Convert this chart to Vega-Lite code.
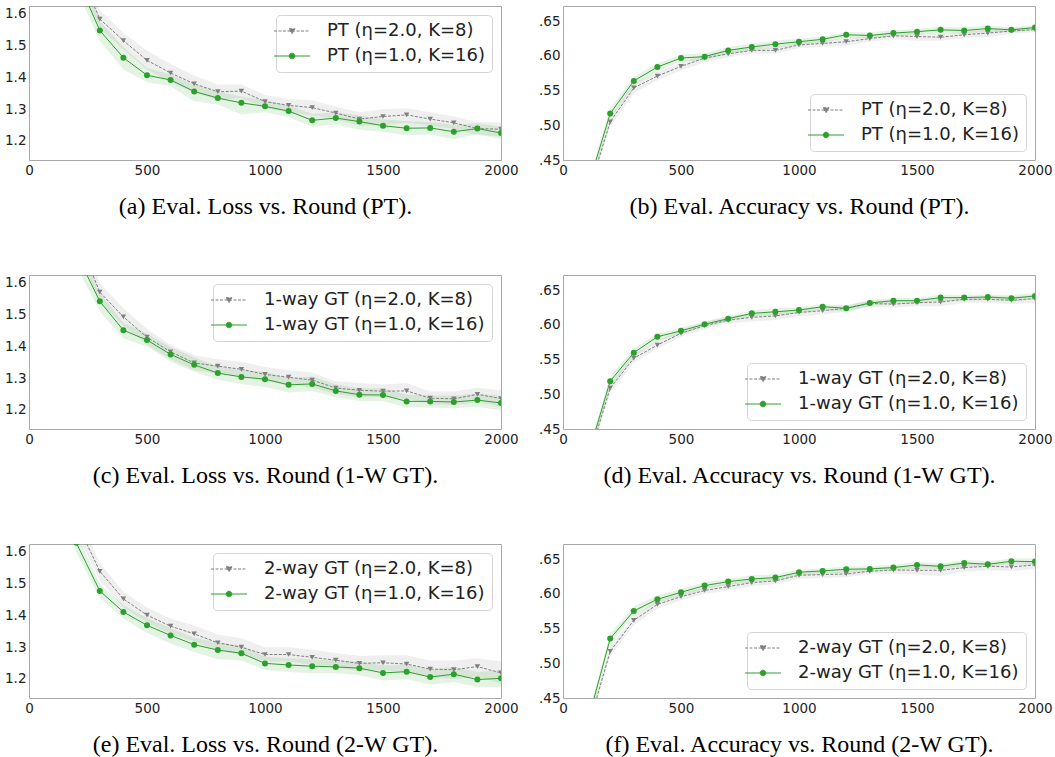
{
"$schema":"https://vega.github.io/schema/vega-lite/v6.json",
"padding":{"left":4,"top":5,"right":0,"bottom":0},
"background":"white",
"datasets":{
"a":[
{"s":"PT (η=2.0, K=8)","o":0,"r":100,"v":2.1,"lo":2.05,"hi":2.15},
{"s":"PT (η=2.0, K=8)","o":0,"r":200,"v":1.756,"lo":1.72,"hi":1.79},
{"s":"PT (η=2.0, K=8)","o":0,"r":300,"v":1.584,"lo":1.555,"hi":1.612},
{"s":"PT (η=2.0, K=8)","o":0,"r":400,"v":1.516,"lo":1.488,"hi":1.54},
{"s":"PT (η=2.0, K=8)","o":0,"r":500,"v":1.454,"lo":1.425,"hi":1.485},
{"s":"PT (η=2.0, K=8)","o":0,"r":600,"v":1.414,"lo":1.385,"hi":1.442},
{"s":"PT (η=2.0, K=8)","o":0,"r":700,"v":1.38,"lo":1.352,"hi":1.406},
{"s":"PT (η=2.0, K=8)","o":0,"r":800,"v":1.355,"lo":1.33,"hi":1.378},
{"s":"PT (η=2.0, K=8)","o":0,"r":900,"v":1.357,"lo":1.335,"hi":1.378},
{"s":"PT (η=2.0, K=8)","o":0,"r":1000,"v":1.324,"lo":1.303,"hi":1.345},
{"s":"PT (η=2.0, K=8)","o":0,"r":1100,"v":1.312,"lo":1.29,"hi":1.332},
{"s":"PT (η=2.0, K=8)","o":0,"r":1200,"v":1.305,"lo":1.28,"hi":1.328},
{"s":"PT (η=2.0, K=8)","o":0,"r":1300,"v":1.288,"lo":1.268,"hi":1.308},
{"s":"PT (η=2.0, K=8)","o":0,"r":1400,"v":1.269,"lo":1.248,"hi":1.29},
{"s":"PT (η=2.0, K=8)","o":0,"r":1500,"v":1.277,"lo":1.25,"hi":1.3},
{"s":"PT (η=2.0, K=8)","o":0,"r":1600,"v":1.282,"lo":1.258,"hi":1.303},
{"s":"PT (η=2.0, K=8)","o":0,"r":1700,"v":1.269,"lo":1.248,"hi":1.29},
{"s":"PT (η=2.0, K=8)","o":0,"r":1800,"v":1.257,"lo":1.238,"hi":1.277},
{"s":"PT (η=2.0, K=8)","o":0,"r":1900,"v":1.239,"lo":1.218,"hi":1.26},
{"s":"PT (η=2.0, K=8)","o":0,"r":2000,"v":1.237,"lo":1.215,"hi":1.258},
{"s":"PT (η=1.0, K=16)","o":1,"r":100,"v":2.05,"lo":2.0,"hi":2.1},
{"s":"PT (η=1.0, K=16)","o":1,"r":200,"v":1.717,"lo":1.68,"hi":1.75},
{"s":"PT (η=1.0, K=16)","o":1,"r":300,"v":1.548,"lo":1.515,"hi":1.578},
{"s":"PT (η=1.0, K=16)","o":1,"r":400,"v":1.462,"lo":1.425,"hi":1.495},
{"s":"PT (η=1.0, K=16)","o":1,"r":500,"v":1.407,"lo":1.385,"hi":1.43},
{"s":"PT (η=1.0, K=16)","o":1,"r":600,"v":1.392,"lo":1.372,"hi":1.41},
{"s":"PT (η=1.0, K=16)","o":1,"r":700,"v":1.356,"lo":1.325,"hi":1.378},
{"s":"PT (η=1.0, K=16)","o":1,"r":800,"v":1.335,"lo":1.315,"hi":1.355},
{"s":"PT (η=1.0, K=16)","o":1,"r":900,"v":1.32,"lo":1.283,"hi":1.34},
{"s":"PT (η=1.0, K=16)","o":1,"r":1000,"v":1.309,"lo":1.29,"hi":1.328},
{"s":"PT (η=1.0, K=16)","o":1,"r":1100,"v":1.294,"lo":1.275,"hi":1.312},
{"s":"PT (η=1.0, K=16)","o":1,"r":1200,"v":1.265,"lo":1.245,"hi":1.285},
{"s":"PT (η=1.0, K=16)","o":1,"r":1300,"v":1.272,"lo":1.252,"hi":1.29},
{"s":"PT (η=1.0, K=16)","o":1,"r":1400,"v":1.261,"lo":1.235,"hi":1.28},
{"s":"PT (η=1.0, K=16)","o":1,"r":1500,"v":1.248,"lo":1.228,"hi":1.268},
{"s":"PT (η=1.0, K=16)","o":1,"r":1600,"v":1.24,"lo":1.218,"hi":1.262},
{"s":"PT (η=1.0, K=16)","o":1,"r":1700,"v":1.241,"lo":1.22,"hi":1.26},
{"s":"PT (η=1.0, K=16)","o":1,"r":1800,"v":1.229,"lo":1.205,"hi":1.25},
{"s":"PT (η=1.0, K=16)","o":1,"r":1900,"v":1.239,"lo":1.222,"hi":1.256},
{"s":"PT (η=1.0, K=16)","o":1,"r":2000,"v":1.225,"lo":1.205,"hi":1.245}
],
"b":[
{"s":"PT (η=2.0, K=8)","o":0,"r":100,"v":0.395,"lo":0.388,"hi":0.402},
{"s":"PT (η=2.0, K=8)","o":0,"r":200,"v":0.505,"lo":0.498,"hi":0.512},
{"s":"PT (η=2.0, K=8)","o":0,"r":300,"v":0.554,"lo":0.546,"hi":0.561},
{"s":"PT (η=2.0, K=8)","o":0,"r":400,"v":0.571,"lo":0.565,"hi":0.577},
{"s":"PT (η=2.0, K=8)","o":0,"r":500,"v":0.585,"lo":0.579,"hi":0.591},
{"s":"PT (η=2.0, K=8)","o":0,"r":600,"v":0.597,"lo":0.591,"hi":0.602},
{"s":"PT (η=2.0, K=8)","o":0,"r":700,"v":0.603,"lo":0.598,"hi":0.608},
{"s":"PT (η=2.0, K=8)","o":0,"r":800,"v":0.608,"lo":0.603,"hi":0.613},
{"s":"PT (η=2.0, K=8)","o":0,"r":900,"v":0.608,"lo":0.603,"hi":0.612},
{"s":"PT (η=2.0, K=8)","o":0,"r":1000,"v":0.616,"lo":0.611,"hi":0.62},
{"s":"PT (η=2.0, K=8)","o":0,"r":1100,"v":0.618,"lo":0.613,"hi":0.622},
{"s":"PT (η=2.0, K=8)","o":0,"r":1200,"v":0.6205,"lo":0.615,"hi":0.625},
{"s":"PT (η=2.0, K=8)","o":0,"r":1300,"v":0.625,"lo":0.621,"hi":0.629},
{"s":"PT (η=2.0, K=8)","o":0,"r":1400,"v":0.629,"lo":0.624,"hi":0.633},
{"s":"PT (η=2.0, K=8)","o":0,"r":1500,"v":0.628,"lo":0.622,"hi":0.633},
{"s":"PT (η=2.0, K=8)","o":0,"r":1600,"v":0.627,"lo":0.622,"hi":0.632},
{"s":"PT (η=2.0, K=8)","o":0,"r":1700,"v":0.6305,"lo":0.626,"hi":0.635},
{"s":"PT (η=2.0, K=8)","o":0,"r":1800,"v":0.633,"lo":0.627,"hi":0.638},
{"s":"PT (η=2.0, K=8)","o":0,"r":1900,"v":0.636,"lo":0.632,"hi":0.64},
{"s":"PT (η=2.0, K=8)","o":0,"r":2000,"v":0.638,"lo":0.634,"hi":0.642},
{"s":"PT (η=1.0, K=16)","o":1,"r":100,"v":0.405,"lo":0.398,"hi":0.412},
{"s":"PT (η=1.0, K=16)","o":1,"r":200,"v":0.517,"lo":0.509,"hi":0.525},
{"s":"PT (η=1.0, K=16)","o":1,"r":300,"v":0.564,"lo":0.557,"hi":0.57},
{"s":"PT (η=1.0, K=16)","o":1,"r":400,"v":0.584,"lo":0.578,"hi":0.589},
{"s":"PT (η=1.0, K=16)","o":1,"r":500,"v":0.597,"lo":0.592,"hi":0.602},
{"s":"PT (η=1.0, K=16)","o":1,"r":600,"v":0.599,"lo":0.594,"hi":0.604},
{"s":"PT (η=1.0, K=16)","o":1,"r":700,"v":0.608,"lo":0.603,"hi":0.613},
{"s":"PT (η=1.0, K=16)","o":1,"r":800,"v":0.613,"lo":0.608,"hi":0.618},
{"s":"PT (η=1.0, K=16)","o":1,"r":900,"v":0.617,"lo":0.611,"hi":0.622},
{"s":"PT (η=1.0, K=16)","o":1,"r":1000,"v":0.6205,"lo":0.616,"hi":0.625},
{"s":"PT (η=1.0, K=16)","o":1,"r":1100,"v":0.624,"lo":0.619,"hi":0.628},
{"s":"PT (η=1.0, K=16)","o":1,"r":1200,"v":0.6305,"lo":0.626,"hi":0.634},
{"s":"PT (η=1.0, K=16)","o":1,"r":1300,"v":0.6295,"lo":0.625,"hi":0.634},
{"s":"PT (η=1.0, K=16)","o":1,"r":1400,"v":0.633,"lo":0.628,"hi":0.637},
{"s":"PT (η=1.0, K=16)","o":1,"r":1500,"v":0.635,"lo":0.631,"hi":0.639},
{"s":"PT (η=1.0, K=16)","o":1,"r":1600,"v":0.6376,"lo":0.633,"hi":0.642},
{"s":"PT (η=1.0, K=16)","o":1,"r":1700,"v":0.6367,"lo":0.632,"hi":0.641},
{"s":"PT (η=1.0, K=16)","o":1,"r":1800,"v":0.6395,"lo":0.635,"hi":0.644},
{"s":"PT (η=1.0, K=16)","o":1,"r":1900,"v":0.6376,"lo":0.634,"hi":0.641},
{"s":"PT (η=1.0, K=16)","o":1,"r":2000,"v":0.641,"lo":0.637,"hi":0.645}
],
"c":[
{"s":"1-way GT (η=2.0, K=8)","o":0,"r":100,"v":2.1,"lo":2.05,"hi":2.15},
{"s":"1-way GT (η=2.0, K=8)","o":0,"r":200,"v":1.754,"lo":1.715,"hi":1.79},
{"s":"1-way GT (η=2.0, K=8)","o":0,"r":300,"v":1.571,"lo":1.54,"hi":1.6},
{"s":"1-way GT (η=2.0, K=8)","o":0,"r":400,"v":1.493,"lo":1.465,"hi":1.52},
{"s":"1-way GT (η=2.0, K=8)","o":0,"r":500,"v":1.429,"lo":1.405,"hi":1.455},
{"s":"1-way GT (η=2.0, K=8)","o":0,"r":600,"v":1.383,"lo":1.36,"hi":1.405},
{"s":"1-way GT (η=2.0, K=8)","o":0,"r":700,"v":1.348,"lo":1.325,"hi":1.372},
{"s":"1-way GT (η=2.0, K=8)","o":0,"r":800,"v":1.338,"lo":1.315,"hi":1.36},
{"s":"1-way GT (η=2.0, K=8)","o":0,"r":900,"v":1.328,"lo":1.305,"hi":1.352},
{"s":"1-way GT (η=2.0, K=8)","o":0,"r":1000,"v":1.312,"lo":1.29,"hi":1.335},
{"s":"1-way GT (η=2.0, K=8)","o":0,"r":1100,"v":1.303,"lo":1.282,"hi":1.325},
{"s":"1-way GT (η=2.0, K=8)","o":0,"r":1200,"v":1.294,"lo":1.27,"hi":1.318},
{"s":"1-way GT (η=2.0, K=8)","o":0,"r":1300,"v":1.269,"lo":1.25,"hi":1.29},
{"s":"1-way GT (η=2.0, K=8)","o":0,"r":1400,"v":1.262,"lo":1.24,"hi":1.285},
{"s":"1-way GT (η=2.0, K=8)","o":0,"r":1500,"v":1.259,"lo":1.24,"hi":1.28},
{"s":"1-way GT (η=2.0, K=8)","o":0,"r":1600,"v":1.26,"lo":1.235,"hi":1.285},
{"s":"1-way GT (η=2.0, K=8)","o":0,"r":1700,"v":1.237,"lo":1.218,"hi":1.258},
{"s":"1-way GT (η=2.0, K=8)","o":0,"r":1800,"v":1.235,"lo":1.215,"hi":1.258},
{"s":"1-way GT (η=2.0, K=8)","o":0,"r":1900,"v":1.249,"lo":1.225,"hi":1.27},
{"s":"1-way GT (η=2.0, K=8)","o":0,"r":2000,"v":1.236,"lo":1.21,"hi":1.262},
{"s":"1-way GT (η=1.0, K=16)","o":1,"r":100,"v":2.05,"lo":2.0,"hi":2.1},
{"s":"1-way GT (η=1.0, K=16)","o":1,"r":200,"v":1.694,"lo":1.655,"hi":1.73},
{"s":"1-way GT (η=1.0, K=16)","o":1,"r":300,"v":1.542,"lo":1.51,"hi":1.57},
{"s":"1-way GT (η=1.0, K=16)","o":1,"r":400,"v":1.451,"lo":1.425,"hi":1.475},
{"s":"1-way GT (η=1.0, K=16)","o":1,"r":500,"v":1.42,"lo":1.4,"hi":1.44},
{"s":"1-way GT (η=1.0, K=16)","o":1,"r":600,"v":1.375,"lo":1.352,"hi":1.398},
{"s":"1-way GT (η=1.0, K=16)","o":1,"r":700,"v":1.342,"lo":1.32,"hi":1.365},
{"s":"1-way GT (η=1.0, K=16)","o":1,"r":800,"v":1.316,"lo":1.295,"hi":1.338},
{"s":"1-way GT (η=1.0, K=16)","o":1,"r":900,"v":1.304,"lo":1.282,"hi":1.326},
{"s":"1-way GT (η=1.0, K=16)","o":1,"r":1000,"v":1.297,"lo":1.272,"hi":1.32},
{"s":"1-way GT (η=1.0, K=16)","o":1,"r":1100,"v":1.279,"lo":1.255,"hi":1.3},
{"s":"1-way GT (η=1.0, K=16)","o":1,"r":1200,"v":1.282,"lo":1.26,"hi":1.305},
{"s":"1-way GT (η=1.0, K=16)","o":1,"r":1300,"v":1.26,"lo":1.24,"hi":1.28},
{"s":"1-way GT (η=1.0, K=16)","o":1,"r":1400,"v":1.248,"lo":1.228,"hi":1.268},
{"s":"1-way GT (η=1.0, K=16)","o":1,"r":1500,"v":1.247,"lo":1.228,"hi":1.268},
{"s":"1-way GT (η=1.0, K=16)","o":1,"r":1600,"v":1.227,"lo":1.208,"hi":1.248},
{"s":"1-way GT (η=1.0, K=16)","o":1,"r":1700,"v":1.227,"lo":1.208,"hi":1.246},
{"s":"1-way GT (η=1.0, K=16)","o":1,"r":1800,"v":1.225,"lo":1.205,"hi":1.245},
{"s":"1-way GT (η=1.0, K=16)","o":1,"r":1900,"v":1.231,"lo":1.21,"hi":1.252},
{"s":"1-way GT (η=1.0, K=16)","o":1,"r":2000,"v":1.222,"lo":1.198,"hi":1.245}
],
"d":[
{"s":"1-way GT (η=2.0, K=8)","o":0,"r":100,"v":0.398,"lo":0.39,"hi":0.405},
{"s":"1-way GT (η=2.0, K=8)","o":0,"r":200,"v":0.509,"lo":0.502,"hi":0.516},
{"s":"1-way GT (η=2.0, K=8)","o":0,"r":300,"v":0.552,"lo":0.545,"hi":0.558},
{"s":"1-way GT (η=2.0, K=8)","o":0,"r":400,"v":0.571,"lo":0.566,"hi":0.577},
{"s":"1-way GT (η=2.0, K=8)","o":0,"r":500,"v":0.588,"lo":0.583,"hi":0.593},
{"s":"1-way GT (η=2.0, K=8)","o":0,"r":600,"v":0.599,"lo":0.594,"hi":0.604},
{"s":"1-way GT (η=2.0, K=8)","o":0,"r":700,"v":0.607,"lo":0.602,"hi":0.612},
{"s":"1-way GT (η=2.0, K=8)","o":0,"r":800,"v":0.611,"lo":0.605,"hi":0.616},
{"s":"1-way GT (η=2.0, K=8)","o":0,"r":900,"v":0.613,"lo":0.607,"hi":0.618},
{"s":"1-way GT (η=2.0, K=8)","o":0,"r":1000,"v":0.618,"lo":0.612,"hi":0.623},
{"s":"1-way GT (η=2.0, K=8)","o":0,"r":1100,"v":0.6205,"lo":0.615,"hi":0.626},
{"s":"1-way GT (η=2.0, K=8)","o":0,"r":1200,"v":0.624,"lo":0.619,"hi":0.628},
{"s":"1-way GT (η=2.0, K=8)","o":0,"r":1300,"v":0.631,"lo":0.626,"hi":0.635},
{"s":"1-way GT (η=2.0, K=8)","o":0,"r":1400,"v":0.63,"lo":0.625,"hi":0.635},
{"s":"1-way GT (η=2.0, K=8)","o":0,"r":1500,"v":0.632,"lo":0.627,"hi":0.636},
{"s":"1-way GT (η=2.0, K=8)","o":0,"r":1600,"v":0.633,"lo":0.627,"hi":0.638},
{"s":"1-way GT (η=2.0, K=8)","o":0,"r":1700,"v":0.637,"lo":0.632,"hi":0.641},
{"s":"1-way GT (η=2.0, K=8)","o":0,"r":1800,"v":0.637,"lo":0.632,"hi":0.641},
{"s":"1-way GT (η=2.0, K=8)","o":0,"r":1900,"v":0.6355,"lo":0.63,"hi":0.641},
{"s":"1-way GT (η=2.0, K=8)","o":0,"r":2000,"v":0.638,"lo":0.632,"hi":0.643},
{"s":"1-way GT (η=1.0, K=16)","o":1,"r":100,"v":0.405,"lo":0.398,"hi":0.412},
{"s":"1-way GT (η=1.0, K=16)","o":1,"r":200,"v":0.519,"lo":0.511,"hi":0.526},
{"s":"1-way GT (η=1.0, K=16)","o":1,"r":300,"v":0.56,"lo":0.554,"hi":0.566},
{"s":"1-way GT (η=1.0, K=16)","o":1,"r":400,"v":0.583,"lo":0.577,"hi":0.588},
{"s":"1-way GT (η=1.0, K=16)","o":1,"r":500,"v":0.5915,"lo":0.587,"hi":0.596},
{"s":"1-way GT (η=1.0, K=16)","o":1,"r":600,"v":0.601,"lo":0.597,"hi":0.605},
{"s":"1-way GT (η=1.0, K=16)","o":1,"r":700,"v":0.609,"lo":0.605,"hi":0.613},
{"s":"1-way GT (η=1.0, K=16)","o":1,"r":800,"v":0.6167,"lo":0.612,"hi":0.621},
{"s":"1-way GT (η=1.0, K=16)","o":1,"r":900,"v":0.619,"lo":0.614,"hi":0.624},
{"s":"1-way GT (η=1.0, K=16)","o":1,"r":1000,"v":0.6215,"lo":0.617,"hi":0.626},
{"s":"1-way GT (η=1.0, K=16)","o":1,"r":1100,"v":0.6263,"lo":0.622,"hi":0.63},
{"s":"1-way GT (η=1.0, K=16)","o":1,"r":1200,"v":0.624,"lo":0.619,"hi":0.628},
{"s":"1-way GT (η=1.0, K=16)","o":1,"r":1300,"v":0.6316,"lo":0.627,"hi":0.636},
{"s":"1-way GT (η=1.0, K=16)","o":1,"r":1400,"v":0.635,"lo":0.631,"hi":0.639},
{"s":"1-way GT (η=1.0, K=16)","o":1,"r":1500,"v":0.635,"lo":0.631,"hi":0.639},
{"s":"1-way GT (η=1.0, K=16)","o":1,"r":1600,"v":0.6394,"lo":0.635,"hi":0.644},
{"s":"1-way GT (η=1.0, K=16)","o":1,"r":1700,"v":0.6394,"lo":0.635,"hi":0.643},
{"s":"1-way GT (η=1.0, K=16)","o":1,"r":1800,"v":0.6403,"lo":0.636,"hi":0.644},
{"s":"1-way GT (η=1.0, K=16)","o":1,"r":1900,"v":0.6384,"lo":0.634,"hi":0.643},
{"s":"1-way GT (η=1.0, K=16)","o":1,"r":2000,"v":0.6418,"lo":0.637,"hi":0.646}
],
"e":[
{"s":"2-way GT (η=2.0, K=8)","o":0,"r":100,"v":2.05,"lo":2.0,"hi":2.1},
{"s":"2-way GT (η=2.0, K=8)","o":0,"r":200,"v":1.696,"lo":1.66,"hi":1.73},
{"s":"2-way GT (η=2.0, K=8)","o":0,"r":300,"v":1.539,"lo":1.51,"hi":1.565},
{"s":"2-way GT (η=2.0, K=8)","o":0,"r":400,"v":1.452,"lo":1.425,"hi":1.475},
{"s":"2-way GT (η=2.0, K=8)","o":0,"r":500,"v":1.401,"lo":1.378,"hi":1.425},
{"s":"2-way GT (η=2.0, K=8)","o":0,"r":600,"v":1.366,"lo":1.342,"hi":1.39},
{"s":"2-way GT (η=2.0, K=8)","o":0,"r":700,"v":1.342,"lo":1.318,"hi":1.368},
{"s":"2-way GT (η=2.0, K=8)","o":0,"r":800,"v":1.314,"lo":1.29,"hi":1.34},
{"s":"2-way GT (η=2.0, K=8)","o":0,"r":900,"v":1.3,"lo":1.275,"hi":1.328},
{"s":"2-way GT (η=2.0, K=8)","o":0,"r":1000,"v":1.277,"lo":1.255,"hi":1.3},
{"s":"2-way GT (η=2.0, K=8)","o":0,"r":1100,"v":1.277,"lo":1.255,"hi":1.3},
{"s":"2-way GT (η=2.0, K=8)","o":0,"r":1200,"v":1.268,"lo":1.245,"hi":1.292},
{"s":"2-way GT (η=2.0, K=8)","o":0,"r":1300,"v":1.259,"lo":1.235,"hi":1.282},
{"s":"2-way GT (η=2.0, K=8)","o":0,"r":1400,"v":1.249,"lo":1.225,"hi":1.272},
{"s":"2-way GT (η=2.0, K=8)","o":0,"r":1500,"v":1.251,"lo":1.228,"hi":1.275},
{"s":"2-way GT (η=2.0, K=8)","o":0,"r":1600,"v":1.247,"lo":1.22,"hi":1.275},
{"s":"2-way GT (η=2.0, K=8)","o":0,"r":1700,"v":1.231,"lo":1.205,"hi":1.258},
{"s":"2-way GT (η=2.0, K=8)","o":0,"r":1800,"v":1.229,"lo":1.2,"hi":1.258},
{"s":"2-way GT (η=2.0, K=8)","o":0,"r":1900,"v":1.239,"lo":1.208,"hi":1.265},
{"s":"2-way GT (η=2.0, K=8)","o":0,"r":2000,"v":1.219,"lo":1.185,"hi":1.255},
{"s":"2-way GT (η=1.0, K=16)","o":1,"r":100,"v":1.95,"lo":1.9,"hi":2.0},
{"s":"2-way GT (η=1.0, K=16)","o":1,"r":200,"v":1.629,"lo":1.6,"hi":1.66},
{"s":"2-way GT (η=1.0, K=16)","o":1,"r":300,"v":1.477,"lo":1.455,"hi":1.5},
{"s":"2-way GT (η=1.0, K=16)","o":1,"r":400,"v":1.411,"lo":1.39,"hi":1.432},
{"s":"2-way GT (η=1.0, K=16)","o":1,"r":500,"v":1.369,"lo":1.345,"hi":1.392},
{"s":"2-way GT (η=1.0, K=16)","o":1,"r":600,"v":1.337,"lo":1.312,"hi":1.36},
{"s":"2-way GT (η=1.0, K=16)","o":1,"r":700,"v":1.308,"lo":1.285,"hi":1.33},
{"s":"2-way GT (η=1.0, K=16)","o":1,"r":800,"v":1.291,"lo":1.262,"hi":1.315},
{"s":"2-way GT (η=1.0, K=16)","o":1,"r":900,"v":1.281,"lo":1.258,"hi":1.305},
{"s":"2-way GT (η=1.0, K=16)","o":1,"r":1000,"v":1.249,"lo":1.228,"hi":1.27},
{"s":"2-way GT (η=1.0, K=16)","o":1,"r":1100,"v":1.244,"lo":1.222,"hi":1.265},
{"s":"2-way GT (η=1.0, K=16)","o":1,"r":1200,"v":1.24,"lo":1.218,"hi":1.262},
{"s":"2-way GT (η=1.0, K=16)","o":1,"r":1300,"v":1.238,"lo":1.218,"hi":1.258},
{"s":"2-way GT (η=1.0, K=16)","o":1,"r":1400,"v":1.234,"lo":1.212,"hi":1.255},
{"s":"2-way GT (η=1.0, K=16)","o":1,"r":1500,"v":1.219,"lo":1.195,"hi":1.242},
{"s":"2-way GT (η=1.0, K=16)","o":1,"r":1600,"v":1.223,"lo":1.2,"hi":1.245},
{"s":"2-way GT (η=1.0, K=16)","o":1,"r":1700,"v":1.206,"lo":1.182,"hi":1.23},
{"s":"2-way GT (η=1.0, K=16)","o":1,"r":1800,"v":1.215,"lo":1.19,"hi":1.238},
{"s":"2-way GT (η=1.0, K=16)","o":1,"r":1900,"v":1.198,"lo":1.175,"hi":1.222},
{"s":"2-way GT (η=1.0, K=16)","o":1,"r":2000,"v":1.202,"lo":1.175,"hi":1.228}
],
"f":[
{"s":"2-way GT (η=2.0, K=8)","o":0,"r":100,"v":0.4,"lo":0.392,"hi":0.408},
{"s":"2-way GT (η=2.0, K=8)","o":0,"r":200,"v":0.5173,"lo":0.51,"hi":0.524},
{"s":"2-way GT (η=2.0, K=8)","o":0,"r":300,"v":0.562,"lo":0.555,"hi":0.568},
{"s":"2-way GT (η=2.0, K=8)","o":0,"r":400,"v":0.585,"lo":0.579,"hi":0.591},
{"s":"2-way GT (η=2.0, K=8)","o":0,"r":500,"v":0.596,"lo":0.591,"hi":0.601},
{"s":"2-way GT (η=2.0, K=8)","o":0,"r":600,"v":0.605,"lo":0.6,"hi":0.61},
{"s":"2-way GT (η=2.0, K=8)","o":0,"r":700,"v":0.6106,"lo":0.605,"hi":0.616},
{"s":"2-way GT (η=2.0, K=8)","o":0,"r":800,"v":0.6163,"lo":0.611,"hi":0.621},
{"s":"2-way GT (η=2.0, K=8)","o":0,"r":900,"v":0.6188,"lo":0.614,"hi":0.623},
{"s":"2-way GT (η=2.0, K=8)","o":0,"r":1000,"v":0.6269,"lo":0.622,"hi":0.631},
{"s":"2-way GT (η=2.0, K=8)","o":0,"r":1100,"v":0.6279,"lo":0.623,"hi":0.632},
{"s":"2-way GT (η=2.0, K=8)","o":0,"r":1200,"v":0.6288,"lo":0.624,"hi":0.633},
{"s":"2-way GT (η=2.0, K=8)","o":0,"r":1300,"v":0.6327,"lo":0.628,"hi":0.637},
{"s":"2-way GT (η=2.0, K=8)","o":0,"r":1400,"v":0.6346,"lo":0.629,"hi":0.64},
{"s":"2-way GT (η=2.0, K=8)","o":0,"r":1500,"v":0.6341,"lo":0.628,"hi":0.64},
{"s":"2-way GT (η=2.0, K=8)","o":0,"r":1600,"v":0.6341,"lo":0.626,"hi":0.641},
{"s":"2-way GT (η=2.0, K=8)","o":0,"r":1700,"v":0.638,"lo":0.632,"hi":0.643},
{"s":"2-way GT (η=2.0, K=8)","o":0,"r":1800,"v":0.6399,"lo":0.634,"hi":0.645},
{"s":"2-way GT (η=2.0, K=8)","o":0,"r":1900,"v":0.6389,"lo":0.633,"hi":0.644},
{"s":"2-way GT (η=2.0, K=8)","o":0,"r":2000,"v":0.6418,"lo":0.636,"hi":0.647},
{"s":"2-way GT (η=1.0, K=16)","o":1,"r":100,"v":0.41,"lo":0.402,"hi":0.418},
{"s":"2-way GT (η=1.0, K=16)","o":1,"r":200,"v":0.5356,"lo":0.528,"hi":0.543},
{"s":"2-way GT (η=1.0, K=16)","o":1,"r":300,"v":0.5755,"lo":0.569,"hi":0.582},
{"s":"2-way GT (η=1.0, K=16)","o":1,"r":400,"v":0.5923,"lo":0.587,"hi":0.598},
{"s":"2-way GT (η=1.0, K=16)","o":1,"r":500,"v":0.6024,"lo":0.597,"hi":0.607},
{"s":"2-way GT (η=1.0, K=16)","o":1,"r":600,"v":0.612,"lo":0.607,"hi":0.617},
{"s":"2-way GT (η=1.0, K=16)","o":1,"r":700,"v":0.6178,"lo":0.613,"hi":0.622},
{"s":"2-way GT (η=1.0, K=16)","o":1,"r":800,"v":0.6216,"lo":0.617,"hi":0.627},
{"s":"2-way GT (η=1.0, K=16)","o":1,"r":900,"v":0.6236,"lo":0.619,"hi":0.628},
{"s":"2-way GT (η=1.0, K=16)","o":1,"r":1000,"v":0.6313,"lo":0.627,"hi":0.635},
{"s":"2-way GT (η=1.0, K=16)","o":1,"r":1100,"v":0.6332,"lo":0.629,"hi":0.637},
{"s":"2-way GT (η=1.0, K=16)","o":1,"r":1200,"v":0.6356,"lo":0.631,"hi":0.64},
{"s":"2-way GT (η=1.0, K=16)","o":1,"r":1300,"v":0.6361,"lo":0.632,"hi":0.64},
{"s":"2-way GT (η=1.0, K=16)","o":1,"r":1400,"v":0.638,"lo":0.634,"hi":0.642},
{"s":"2-way GT (η=1.0, K=16)","o":1,"r":1500,"v":0.6418,"lo":0.637,"hi":0.646},
{"s":"2-way GT (η=1.0, K=16)","o":1,"r":1600,"v":0.6399,"lo":0.636,"hi":0.644},
{"s":"2-way GT (η=1.0, K=16)","o":1,"r":1700,"v":0.6447,"lo":0.64,"hi":0.649},
{"s":"2-way GT (η=1.0, K=16)","o":1,"r":1800,"v":0.6428,"lo":0.639,"hi":0.647},
{"s":"2-way GT (η=1.0, K=16)","o":1,"r":1900,"v":0.6471,"lo":0.643,"hi":0.651},
{"s":"2-way GT (η=1.0, K=16)","o":1,"r":2000,"v":0.6466,"lo":0.642,"hi":0.651}
]
},
"vconcat":[
{"hconcat":[
{"width":472,"height":154,"data":{"name":"a"},
 "encoding":{
  "x":{"field":"r","type":"quantitative","scale":{"domain":[0,2000],"nice":false},"axis":{"values":[0,500,1000,1500,2000],"format":"d","title":"(a) Eval. Loss vs. Round (PT)."}},
  "color":{"field":"s","type":"nominal","sort":{"field":"o","op":"min"},"scale":{"range":["#808080","#2ca02c"]},
   "legend":{"title":null,"orient":"top-right","encode":{"symbols":{"update":{
    "shape":{"signal":"datum.index == 0 ? 'M-3.6,0H3.6M-0.6,-0.45H0.6L0,0.55Z' : 'M-3.6,0H3.6M-0.55,0A0.55,0.55 0 1 1 0.55,0A0.55,0.55 0 1 1 -0.55,0Z'"},
    "fill":{"signal":"datum.index == 0 ? '#808080' : '#2ca02c'"},
    "stroke":{"signal":"datum.index == 0 ? '#808080' : '#2ca02c'"},
    "strokeDash":{"signal":"datum.index == 0 ? [3,1.5] : [1,0]"},
    "opacity":{"value":1},"fillOpacity":{"value":1},"strokeOpacity":{"value":1},"strokeWidth":{"value":1}}}}}}
 },
 "layer":[
  {"mark":{"type":"area","clip":true,"opacity":0.13},"encoding":{"y":{"field":"lo","type":"quantitative","scale":{"domain":[1.14,1.625],"nice":false,"zero":false},"axis":{"values":[1.2,1.3,1.4,1.5,1.6],"tickCount":5,"format":".1f","title":null}},"y2":{"field":"hi"}}},
  {"transform":[{"filter":"datum.o==0"}],"mark":{"type":"line","clip":true,"strokeWidth":1,"strokeDash":[3,1.5]},"encoding":{"y":{"field":"v","type":"quantitative"}}},
  {"transform":[{"filter":"datum.o==1"}],"mark":{"type":"line","clip":true,"strokeWidth":1},"encoding":{"y":{"field":"v","type":"quantitative"}}},
  {"transform":[{"filter":"datum.o==0"}],"mark":{"type":"point","clip":true,"shape":"triangle-down","filled":true,"size":30,"opacity":1},"encoding":{"y":{"field":"v","type":"quantitative"}}},
  {"transform":[{"filter":"datum.o==1"}],"mark":{"type":"point","clip":true,"shape":"circle","filled":true,"size":36,"opacity":1},"encoding":{"y":{"field":"v","type":"quantitative"}}}
 ]},
{"width":472,"height":154,"data":{"name":"b"},
 "encoding":{
  "x":{"field":"r","type":"quantitative","scale":{"domain":[0,2000],"nice":false},"axis":{"values":[0,500,1000,1500,2000],"format":"d","title":"(b) Eval. Accuracy vs. Round (PT)."}},
  "color":{"field":"s","type":"nominal","sort":{"field":"o","op":"min"},"scale":{"range":["#808080","#2ca02c"]},
   "legend":{"title":null,"orient":"bottom-right","encode":{"symbols":{"update":{
    "shape":{"signal":"datum.index == 0 ? 'M-3.6,0H3.6M-0.6,-0.45H0.6L0,0.55Z' : 'M-3.6,0H3.6M-0.55,0A0.55,0.55 0 1 1 0.55,0A0.55,0.55 0 1 1 -0.55,0Z'"},
    "fill":{"signal":"datum.index == 0 ? '#808080' : '#2ca02c'"},
    "stroke":{"signal":"datum.index == 0 ? '#808080' : '#2ca02c'"},
    "strokeDash":{"signal":"datum.index == 0 ? [3,1.5] : [1,0]"},
    "opacity":{"value":1},"fillOpacity":{"value":1},"strokeOpacity":{"value":1},"strokeWidth":{"value":1}}}}}}
 },
 "layer":[
  {"mark":{"type":"area","clip":true,"opacity":0.13},"encoding":{"y":{"field":"lo","type":"quantitative","scale":{"domain":[0.45,0.672],"nice":false,"zero":false},"axis":{"values":[0.45,0.5,0.55,0.6,0.65],"tickCount":5,"labelExpr":"replace(format(datum.value,'.2f'),'0.','.')","title":null}},"y2":{"field":"hi"}}},
  {"transform":[{"filter":"datum.o==0"}],"mark":{"type":"line","clip":true,"strokeWidth":1,"strokeDash":[3,1.5]},"encoding":{"y":{"field":"v","type":"quantitative"}}},
  {"transform":[{"filter":"datum.o==1"}],"mark":{"type":"line","clip":true,"strokeWidth":1},"encoding":{"y":{"field":"v","type":"quantitative"}}},
  {"transform":[{"filter":"datum.o==0"}],"mark":{"type":"point","clip":true,"shape":"triangle-down","filled":true,"size":30,"opacity":1},"encoding":{"y":{"field":"v","type":"quantitative"}}},
  {"transform":[{"filter":"datum.o==1"}],"mark":{"type":"point","clip":true,"shape":"circle","filled":true,"size":36,"opacity":1},"encoding":{"y":{"field":"v","type":"quantitative"}}}
 ]}
],"spacing":19,"resolve":{"scale":{"color":"independent"},"legend":{"color":"independent"}}},
{"hconcat":[
{"width":472,"height":154,"data":{"name":"c"},
 "encoding":{
  "x":{"field":"r","type":"quantitative","scale":{"domain":[0,2000],"nice":false},"axis":{"values":[0,500,1000,1500,2000],"format":"d","title":"(c) Eval. Loss vs. Round (1-W GT)."}},
  "color":{"field":"s","type":"nominal","sort":{"field":"o","op":"min"},"scale":{"range":["#808080","#2ca02c"]},
   "legend":{"title":null,"orient":"top-right","encode":{"symbols":{"update":{
    "shape":{"signal":"datum.index == 0 ? 'M-3.6,0H3.6M-0.6,-0.45H0.6L0,0.55Z' : 'M-3.6,0H3.6M-0.55,0A0.55,0.55 0 1 1 0.55,0A0.55,0.55 0 1 1 -0.55,0Z'"},
    "fill":{"signal":"datum.index == 0 ? '#808080' : '#2ca02c'"},
    "stroke":{"signal":"datum.index == 0 ? '#808080' : '#2ca02c'"},
    "strokeDash":{"signal":"datum.index == 0 ? [3,1.5] : [1,0]"},
    "opacity":{"value":1},"fillOpacity":{"value":1},"strokeOpacity":{"value":1},"strokeWidth":{"value":1}}}}}}
 },
 "layer":[
  {"mark":{"type":"area","clip":true,"opacity":0.13},"encoding":{"y":{"field":"lo","type":"quantitative","scale":{"domain":[1.14,1.625],"nice":false,"zero":false},"axis":{"values":[1.2,1.3,1.4,1.5,1.6],"tickCount":5,"format":".1f","title":null}},"y2":{"field":"hi"}}},
  {"transform":[{"filter":"datum.o==0"}],"mark":{"type":"line","clip":true,"strokeWidth":1,"strokeDash":[3,1.5]},"encoding":{"y":{"field":"v","type":"quantitative"}}},
  {"transform":[{"filter":"datum.o==1"}],"mark":{"type":"line","clip":true,"strokeWidth":1},"encoding":{"y":{"field":"v","type":"quantitative"}}},
  {"transform":[{"filter":"datum.o==0"}],"mark":{"type":"point","clip":true,"shape":"triangle-down","filled":true,"size":30,"opacity":1},"encoding":{"y":{"field":"v","type":"quantitative"}}},
  {"transform":[{"filter":"datum.o==1"}],"mark":{"type":"point","clip":true,"shape":"circle","filled":true,"size":36,"opacity":1},"encoding":{"y":{"field":"v","type":"quantitative"}}}
 ]},
{"width":472,"height":154,"data":{"name":"d"},
 "encoding":{
  "x":{"field":"r","type":"quantitative","scale":{"domain":[0,2000],"nice":false},"axis":{"values":[0,500,1000,1500,2000],"format":"d","title":"(d) Eval. Accuracy vs. Round (1-W GT)."}},
  "color":{"field":"s","type":"nominal","sort":{"field":"o","op":"min"},"scale":{"range":["#808080","#2ca02c"]},
   "legend":{"title":null,"orient":"bottom-right","encode":{"symbols":{"update":{
    "shape":{"signal":"datum.index == 0 ? 'M-3.6,0H3.6M-0.6,-0.45H0.6L0,0.55Z' : 'M-3.6,0H3.6M-0.55,0A0.55,0.55 0 1 1 0.55,0A0.55,0.55 0 1 1 -0.55,0Z'"},
    "fill":{"signal":"datum.index == 0 ? '#808080' : '#2ca02c'"},
    "stroke":{"signal":"datum.index == 0 ? '#808080' : '#2ca02c'"},
    "strokeDash":{"signal":"datum.index == 0 ? [3,1.5] : [1,0]"},
    "opacity":{"value":1},"fillOpacity":{"value":1},"strokeOpacity":{"value":1},"strokeWidth":{"value":1}}}}}}
 },
 "layer":[
  {"mark":{"type":"area","clip":true,"opacity":0.13},"encoding":{"y":{"field":"lo","type":"quantitative","scale":{"domain":[0.45,0.672],"nice":false,"zero":false},"axis":{"values":[0.45,0.5,0.55,0.6,0.65],"tickCount":5,"labelExpr":"replace(format(datum.value,'.2f'),'0.','.')","title":null}},"y2":{"field":"hi"}}},
  {"transform":[{"filter":"datum.o==0"}],"mark":{"type":"line","clip":true,"strokeWidth":1,"strokeDash":[3,1.5]},"encoding":{"y":{"field":"v","type":"quantitative"}}},
  {"transform":[{"filter":"datum.o==1"}],"mark":{"type":"line","clip":true,"strokeWidth":1},"encoding":{"y":{"field":"v","type":"quantitative"}}},
  {"transform":[{"filter":"datum.o==0"}],"mark":{"type":"point","clip":true,"shape":"triangle-down","filled":true,"size":30,"opacity":1},"encoding":{"y":{"field":"v","type":"quantitative"}}},
  {"transform":[{"filter":"datum.o==1"}],"mark":{"type":"point","clip":true,"shape":"circle","filled":true,"size":36,"opacity":1},"encoding":{"y":{"field":"v","type":"quantitative"}}}
 ]}
],"spacing":19,"resolve":{"scale":{"color":"independent"},"legend":{"color":"independent"}}},
{"hconcat":[
{"width":472,"height":154,"data":{"name":"e"},
 "encoding":{
  "x":{"field":"r","type":"quantitative","scale":{"domain":[0,2000],"nice":false},"axis":{"values":[0,500,1000,1500,2000],"format":"d","title":"(e) Eval. Loss vs. Round (2-W GT)."}},
  "color":{"field":"s","type":"nominal","sort":{"field":"o","op":"min"},"scale":{"range":["#808080","#2ca02c"]},
   "legend":{"title":null,"orient":"top-right","encode":{"symbols":{"update":{
    "shape":{"signal":"datum.index == 0 ? 'M-3.6,0H3.6M-0.6,-0.45H0.6L0,0.55Z' : 'M-3.6,0H3.6M-0.55,0A0.55,0.55 0 1 1 0.55,0A0.55,0.55 0 1 1 -0.55,0Z'"},
    "fill":{"signal":"datum.index == 0 ? '#808080' : '#2ca02c'"},
    "stroke":{"signal":"datum.index == 0 ? '#808080' : '#2ca02c'"},
    "strokeDash":{"signal":"datum.index == 0 ? [3,1.5] : [1,0]"},
    "opacity":{"value":1},"fillOpacity":{"value":1},"strokeOpacity":{"value":1},"strokeWidth":{"value":1}}}}}}
 },
 "layer":[
  {"mark":{"type":"area","clip":true,"opacity":0.13},"encoding":{"y":{"field":"lo","type":"quantitative","scale":{"domain":[1.14,1.625],"nice":false,"zero":false},"axis":{"values":[1.2,1.3,1.4,1.5,1.6],"tickCount":5,"format":".1f","title":null}},"y2":{"field":"hi"}}},
  {"transform":[{"filter":"datum.o==0"}],"mark":{"type":"line","clip":true,"strokeWidth":1,"strokeDash":[3,1.5]},"encoding":{"y":{"field":"v","type":"quantitative"}}},
  {"transform":[{"filter":"datum.o==1"}],"mark":{"type":"line","clip":true,"strokeWidth":1},"encoding":{"y":{"field":"v","type":"quantitative"}}},
  {"transform":[{"filter":"datum.o==0"}],"mark":{"type":"point","clip":true,"shape":"triangle-down","filled":true,"size":30,"opacity":1},"encoding":{"y":{"field":"v","type":"quantitative"}}},
  {"transform":[{"filter":"datum.o==1"}],"mark":{"type":"point","clip":true,"shape":"circle","filled":true,"size":36,"opacity":1},"encoding":{"y":{"field":"v","type":"quantitative"}}}
 ]},
{"width":472,"height":154,"data":{"name":"f"},
 "encoding":{
  "x":{"field":"r","type":"quantitative","scale":{"domain":[0,2000],"nice":false},"axis":{"values":[0,500,1000,1500,2000],"format":"d","title":"(f) Eval. Accuracy vs. Round (2-W GT)."}},
  "color":{"field":"s","type":"nominal","sort":{"field":"o","op":"min"},"scale":{"range":["#808080","#2ca02c"]},
   "legend":{"title":null,"orient":"bottom-right","encode":{"symbols":{"update":{
    "shape":{"signal":"datum.index == 0 ? 'M-3.6,0H3.6M-0.6,-0.45H0.6L0,0.55Z' : 'M-3.6,0H3.6M-0.55,0A0.55,0.55 0 1 1 0.55,0A0.55,0.55 0 1 1 -0.55,0Z'"},
    "fill":{"signal":"datum.index == 0 ? '#808080' : '#2ca02c'"},
    "stroke":{"signal":"datum.index == 0 ? '#808080' : '#2ca02c'"},
    "strokeDash":{"signal":"datum.index == 0 ? [3,1.5] : [1,0]"},
    "opacity":{"value":1},"fillOpacity":{"value":1},"strokeOpacity":{"value":1},"strokeWidth":{"value":1}}}}}}
 },
 "layer":[
  {"mark":{"type":"area","clip":true,"opacity":0.13},"encoding":{"y":{"field":"lo","type":"quantitative","scale":{"domain":[0.45,0.672],"nice":false,"zero":false},"axis":{"values":[0.45,0.5,0.55,0.6,0.65],"tickCount":5,"labelExpr":"replace(format(datum.value,'.2f'),'0.','.')","title":null}},"y2":{"field":"hi"}}},
  {"transform":[{"filter":"datum.o==0"}],"mark":{"type":"line","clip":true,"strokeWidth":1,"strokeDash":[3,1.5]},"encoding":{"y":{"field":"v","type":"quantitative"}}},
  {"transform":[{"filter":"datum.o==1"}],"mark":{"type":"line","clip":true,"strokeWidth":1},"encoding":{"y":{"field":"v","type":"quantitative"}}},
  {"transform":[{"filter":"datum.o==0"}],"mark":{"type":"point","clip":true,"shape":"triangle-down","filled":true,"size":30,"opacity":1},"encoding":{"y":{"field":"v","type":"quantitative"}}},
  {"transform":[{"filter":"datum.o==1"}],"mark":{"type":"point","clip":true,"shape":"circle","filled":true,"size":36,"opacity":1},"encoding":{"y":{"field":"v","type":"quantitative"}}}
 ]}
],"spacing":19,"resolve":{"scale":{"color":"independent"},"legend":{"color":"independent"}}}
],
"spacing":55,
"resolve":{"scale":{"color":"independent"},"legend":{"color":"independent"}},
"config":{
 "view":{"stroke":"#a8a8a8","strokeWidth":1},
 "axis":{"domain":false,"ticks":false,"grid":false,"labelFont":"DejaVu Sans","labelFontSize":13.5,"labelColor":"#222","labelPadding":3,"labelFlush":false,"labelOverlap":false,"labelBound":false,"titleFont":"Liberation Serif","titleFontSize":24,"titleFontWeight":"normal","titleColor":"#000"},
 "axisX":{"titlePadding":18},
 "axisY":{"labelOverlap":false},
 "axisQuantitative":{"labelOverlap":false},
 "legend":{"labelFont":"DejaVu Sans","labelFontSize":18,"labelColor":"#222","labelLimit":400,"padding":7,"rowPadding":7,"offset":9,"strokeColor":"#d5d5d5","fillColor":"rgba(255,255,255,0.85)","cornerRadius":4,"symbolSize":100,"labelOffset":26,"symbolStrokeWidth":1,"symbolOpacity":1}
}
}
